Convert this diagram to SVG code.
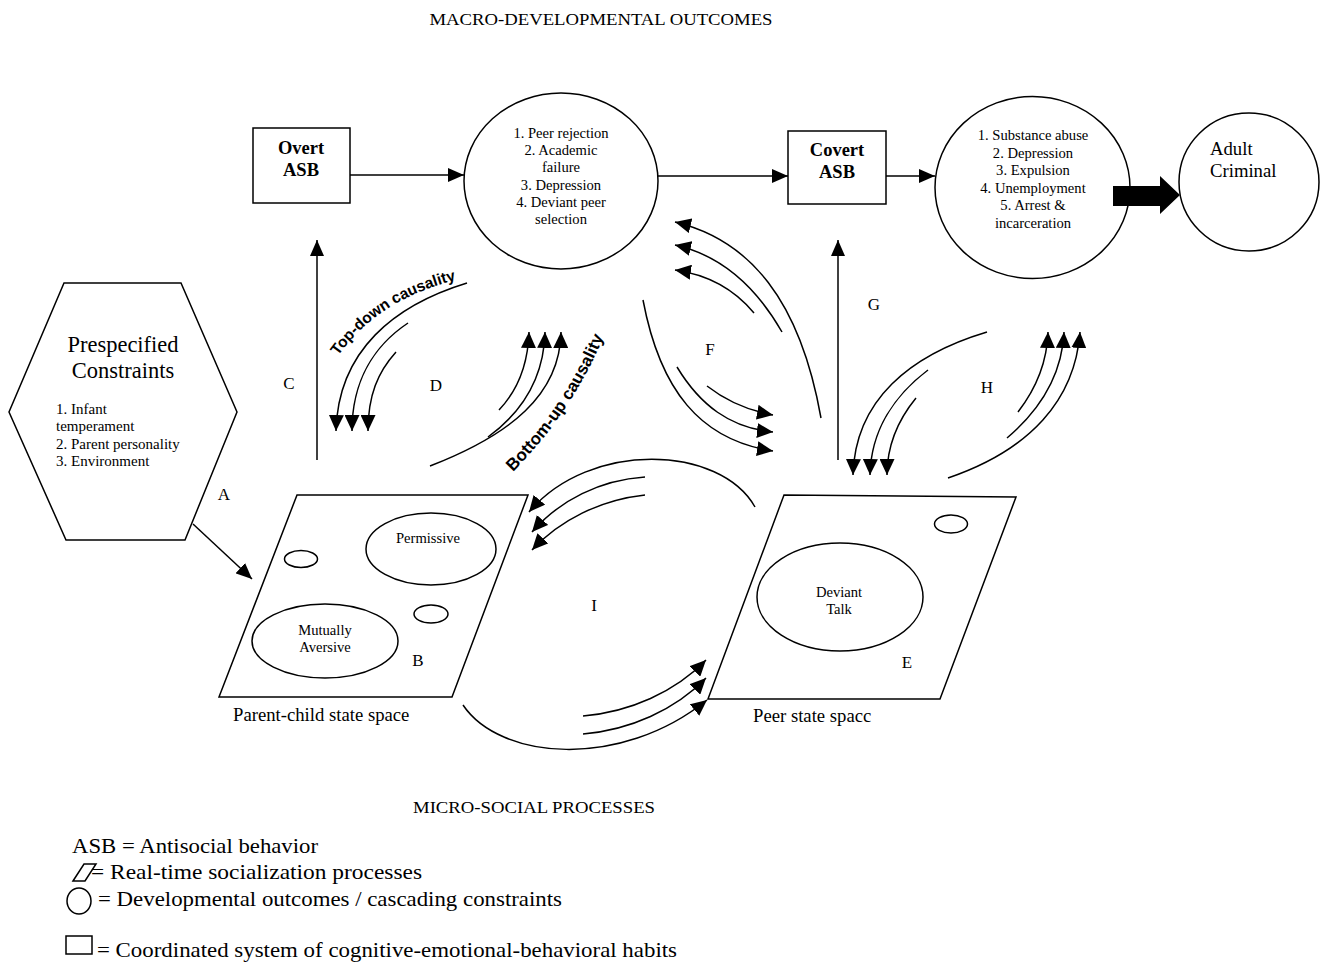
<svg xmlns="http://www.w3.org/2000/svg" width="1326" height="962" viewBox="0 0 1326 962">
<style>
.s{fill:none;stroke:#000;stroke-width:1.5}
.t{font-family:"Liberation Serif","Times New Roman",serif;fill:#000}
.lab{font-family:"Liberation Serif","Times New Roman",serif;font-size:17px;fill:#000;text-anchor:middle}
.in{font-family:"Liberation Serif","Times New Roman",serif;font-size:14.6px;fill:#000;text-anchor:middle}
.bx{font-family:"Liberation Serif","Times New Roman",serif;font-size:18.5px;font-weight:bold;fill:#000;text-anchor:middle}
.cz{font-family:"Liberation Sans",Arial,sans-serif;font-weight:bold;fill:#000}
.leg{font-family:"Liberation Serif","Times New Roman",serif;font-size:22px;fill:#000}
</style>
<defs>
<marker id="ah" markerUnits="userSpaceOnUse" markerWidth="16" markerHeight="14" viewBox="0 0 16 14" refX="16" refY="7" orient="auto">
<path d="M0,0 L16,7 L0,14 z" fill="#000"/>
</marker>
<marker id="ah2" markerUnits="userSpaceOnUse" markerWidth="16" markerHeight="15" viewBox="0 0 16 15" refX="16" refY="7.5" orient="auto">
<path d="M0,0 L16,7.5 L0,15 z" fill="#000"/>
</marker>
<path id="tdp" d="M338,356 C365,318 405,292 460,279"/>
<path id="bup" d="M513,472 Q576,408 607,328"/>
</defs>
<rect width="1326" height="962" fill="#fff"/>

<text class="t" x="601" y="25" font-size="16.5" text-anchor="middle" textLength="343" lengthAdjust="spacingAndGlyphs">MACRO-DEVELOPMENTAL OUTCOMES</text>
<text class="t" x="534" y="813" font-size="16.5" text-anchor="middle" textLength="242" lengthAdjust="spacingAndGlyphs">MICRO-SOCIAL PROCESSES</text>

<g id="overt-asb">
<rect x="253" y="128" width="97" height="75" class="s"/>
<text class="bx" x="301" y="154">Overt</text>
<text class="bx" x="301" y="176">ASB</text>
</g>

<g id="outcomes-1">
<ellipse cx="561" cy="181" rx="97" ry="88" class="s"/>
<text class="in" x="561" y="138">1. Peer rejection</text>
<text class="in" x="561" y="155">2. Academic</text>
<text class="in" x="561" y="172">failure</text>
<text class="in" x="561" y="190">3. Depression</text>
<text class="in" x="561" y="207">4. Deviant peer</text>
<text class="in" x="561" y="224">selection</text>
</g>

<g id="covert-asb">
<rect x="788" y="131" width="98" height="73" class="s"/>
<text class="bx" x="837" y="156">Covert</text>
<text class="bx" x="837" y="178">ASB</text>
</g>

<g id="outcomes-2">
<ellipse cx="1032.5" cy="187.5" rx="97.5" ry="91" class="s"/>
<text class="in" x="1033" y="140">1. Substance abuse</text>
<text class="in" x="1033" y="158">2. Depression</text>
<text class="in" x="1033" y="175">3. Expulsion</text>
<text class="in" x="1033" y="193">4. Unemployment</text>
<text class="in" x="1033" y="210">5. Arrest &amp;</text>
<text class="in" x="1033" y="228">incarceration</text>
</g>

<g id="adult-criminal">
<ellipse cx="1249" cy="182" rx="70" ry="69" class="s"/>
<text class="t" x="1210" y="155" font-size="18.7">Adult</text>
<text class="t" x="1210" y="177" font-size="18.7">Criminal</text>
</g>

<g id="prespecified-constraints">
<polygon points="64,283 181,283 237,412 185,540 66,540 9,412" class="s"/>
<text class="t" x="123" y="352" font-size="22.5" text-anchor="middle">Prespecified</text>
<text class="t" x="123" y="378" font-size="22.5" text-anchor="middle">Constraints</text>
<text class="t" x="56" y="414" font-size="15">1. Infant</text>
<text class="t" x="56" y="431" font-size="15">temperament</text>
<text class="t" x="56" y="449" font-size="15">2. Parent personality</text>
<text class="t" x="56" y="466" font-size="15">3. Environment</text>
</g>

<g id="parent-child-state-space">
<polygon points="297,495 528,495 452,697 219,697" class="s"/>
<ellipse cx="431" cy="549" rx="65" ry="36" class="s"/>
<text class="in" x="428" y="543">Permissive</text>
<ellipse cx="301" cy="559" rx="16.5" ry="8.5" class="s"/>
<ellipse cx="431" cy="614" rx="17" ry="9" class="s"/>
<ellipse cx="325" cy="641" rx="73" ry="37" class="s"/>
<text class="in" x="325" y="635">Mutually</text>
<text class="in" x="325" y="652">Aversive</text>
<text class="lab" x="418" y="666">B</text>
<text class="t" x="233" y="721" font-size="18.7">Parent-child state space</text>
</g>

<g id="peer-state-space">
<polygon points="784,495 1016,497 940,699 708,699" class="s"/>
<ellipse cx="951" cy="524" rx="16.5" ry="9" class="s"/>
<ellipse cx="840" cy="597" rx="83" ry="54" class="s"/>
<text class="in" x="839" y="597">Deviant</text>
<text class="in" x="839" y="614">Talk</text>
<text class="lab" x="907" y="668">E</text>
<text class="t" x="753" y="722" font-size="18.7">Peer state spacc</text>
</g>

<g id="connectors">
<line x1="350" y1="175" x2="464" y2="175" class="s" marker-end="url(#ah)"/>
<line x1="658" y1="176" x2="788" y2="176" class="s" marker-end="url(#ah)"/>
<line x1="886" y1="176" x2="935" y2="176" class="s" marker-end="url(#ah)"/>
<polygon points="1113,186 1160,186 1160,176 1180,195 1160,214 1160,206 1113,206" fill="#000"/>
<line x1="193" y1="524" x2="252" y2="579" class="s" marker-end="url(#ah)"/>
<line x1="317" y1="460" x2="317" y2="240" class="s" marker-end="url(#ah)"/>
<line x1="838" y1="460" x2="838" y2="240" class="s" marker-end="url(#ah)"/>

<path d="M467,283 C395,305 338,350 336,431" class="s" marker-end="url(#ah2)"/>
<path d="M408,323 C375,345 352,380 352,431" class="s" marker-end="url(#ah2)"/>
<path d="M396,352 C378,372 368,395 368,431" class="s" marker-end="url(#ah2)"/>
<path d="M430,466 C510,435 560,395 561,332" class="s" marker-end="url(#ah2)"/>
<path d="M488,437 C525,410 544,375 545,332" class="s" marker-end="url(#ah2)"/>
<path d="M499,410 C518,390 528,365 529,332" class="s" marker-end="url(#ah2)"/>

<path d="M643,300 C660,390 700,440 773,451" class="s" marker-end="url(#ah2)"/>
<path d="M677,367 C700,405 730,428 773,432" class="s" marker-end="url(#ah2)"/>
<path d="M707,386 C725,400 745,410 773,415" class="s" marker-end="url(#ah2)"/>
<path d="M821,418 C800,300 750,240 675,222" class="s" marker-end="url(#ah2)"/>
<path d="M782,332 C755,285 720,255 675,245" class="s" marker-end="url(#ah2)"/>
<path d="M754,313 C735,290 710,275 675,270" class="s" marker-end="url(#ah2)"/>

<path d="M987,332 C910,355 855,400 853,475" class="s" marker-end="url(#ah2)"/>
<path d="M928,370 C895,395 871,430 870,475" class="s" marker-end="url(#ah2)"/>
<path d="M916,398 C898,420 887,445 887,475" class="s" marker-end="url(#ah2)"/>
<path d="M1018,412 C1035,390 1047,365 1048,332" class="s" marker-end="url(#ah2)"/>
<path d="M1007,438 C1040,410 1062,375 1064,332" class="s" marker-end="url(#ah2)"/>
<path d="M948,478 C1030,450 1075,400 1080,332" class="s" marker-end="url(#ah2)"/>

<path d="M755,507 C720,445 590,440 529,512" class="s" marker-end="url(#ah2)"/>
<path d="M645,477 C600,480 560,500 532,532" class="s" marker-end="url(#ah2)"/>
<path d="M645,495 C600,500 560,520 532,550" class="s" marker-end="url(#ah2)"/>
<path d="M463,705 C500,760 620,770 707,700" class="s" marker-end="url(#ah2)"/>
<path d="M583,734 C630,730 675,710 706,678" class="s" marker-end="url(#ah2)"/>
<path d="M583,716 C630,712 675,692 706,660" class="s" marker-end="url(#ah2)"/>

<text class="cz" font-size="15.5"><textPath href="#tdp">Top-down causality</textPath></text>
<text class="cz" font-size="17"><textPath href="#bup">Bottom-up causality</textPath></text>

<text class="lab" x="224" y="500">A</text>
<text class="lab" x="289" y="389">C</text>
<text class="lab" x="436" y="391">D</text>
<text class="lab" x="710" y="355">F</text>
<text class="lab" x="874" y="310">G</text>
<text class="lab" x="987" y="393">H</text>
<text class="lab" x="594" y="611">I</text>
</g>

<g id="legend">
<text class="leg" x="72" y="853" textLength="246" lengthAdjust="spacingAndGlyphs">ASB = Antisocial behavior</text>
<polygon points="73,881 84,864 96,864 85,881" class="s" stroke-width="1.2"/>
<text class="leg" x="91" y="879" textLength="331" lengthAdjust="spacingAndGlyphs">= Real-time socialization processes</text>
<ellipse cx="79" cy="901" rx="12" ry="13" class="s" stroke-width="1.2"/>
<text class="leg" x="98" y="906" textLength="464" lengthAdjust="spacingAndGlyphs">= Developmental outcomes / cascading constraints</text>
<rect x="66" y="936" width="26" height="18" class="s" stroke-width="1.2"/>
<text class="leg" x="97" y="957" textLength="580" lengthAdjust="spacingAndGlyphs">= Coordinated system of cognitive-emotional-behavioral habits</text>
</g>
</svg>
